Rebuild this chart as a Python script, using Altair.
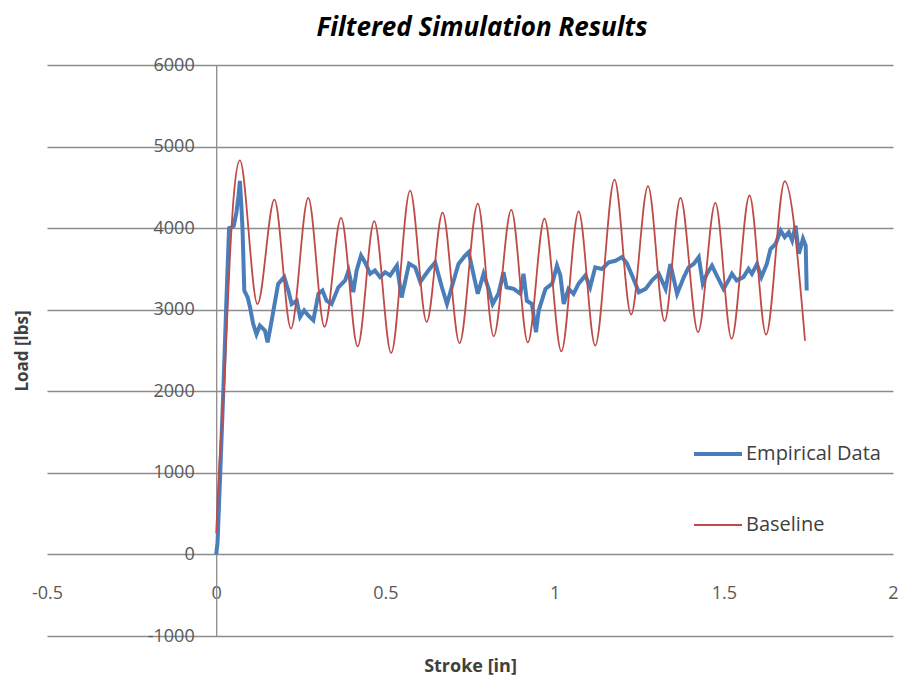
import altair as alt
import pandas as pd

# Empirical data (blue)
emp_x = [0, 0.004, 0.012, 0.021, 0.030, 0.038, 0.045, 0.052, 0.060, 0.066, 0.070, 0.074, 0.078, 0.083,
         0.093, 0.100, 0.109, 0.119, 0.129, 0.144, 0.152, 0.164, 0.183, 0.201, 0.213, 0.223, 0.238,
         0.248, 0.260, 0.272, 0.287, 0.302, 0.314, 0.326, 0.341, 0.361, 0.381, 0.391, 0.405, 0.415,
         0.428, 0.440, 0.455, 0.469, 0.484, 0.499, 0.514, 0.534, 0.548, 0.570, 0.588, 0.603, 0.627,
         0.647, 0.667, 0.682, 0.696, 0.716, 0.736, 0.746, 0.760, 0.773, 0.790, 0.805, 0.817, 0.834,
         0.849, 0.858, 0.879, 0.899, 0.908, 0.918, 0.933, 0.945, 0.953, 0.973, 0.993, 1.007, 1.017,
         1.027, 1.041, 1.056, 1.071, 1.091, 1.105, 1.120, 1.140, 1.160, 1.180, 1.199, 1.214, 1.229,
         1.249, 1.269, 1.288, 1.308, 1.328, 1.342, 1.362, 1.382, 1.396, 1.411, 1.426, 1.438, 1.450,
         1.465, 1.479, 1.499, 1.514, 1.524, 1.538, 1.558, 1.573, 1.583, 1.598, 1.611, 1.627, 1.638,
         1.653, 1.668, 1.680, 1.692, 1.702, 1.712, 1.722, 1.734, 1.742, 1.745]
emp_y = [0, 150, 1000, 2000, 3100, 4000, 4010, 4030, 4200, 4400, 4580, 4300, 3970, 3235,
         3150, 3030, 2830, 2700, 2805, 2745, 2600, 2870, 3315, 3400, 3235, 3070, 3110,
         2910, 2990, 2930, 2870, 3195, 3235, 3110, 3070, 3275, 3360, 3480, 3215, 3480,
         3665, 3580, 3440, 3480, 3400, 3460, 3420, 3540, 3150, 3565, 3520, 3340, 3480,
         3580, 3275, 3070, 3275, 3560, 3665, 3705, 3440, 3195, 3440, 3255, 3070, 3195,
         3460, 3275, 3255, 3195, 3440, 3110, 3070, 2725, 2990, 3255, 3320, 3540, 3420,
         3070, 3255, 3195, 3320, 3420, 3275, 3520, 3500, 3580, 3600, 3645, 3565, 3420,
         3215, 3255, 3360, 3440, 3255, 3560, 3195, 3400, 3520, 3560, 3645, 3320, 3440,
         3540, 3420, 3255, 3360, 3440, 3360, 3400, 3500, 3440, 3560, 3400, 3560, 3745,
         3805, 3970, 3890, 3950, 3850, 4030, 3685, 3870, 3785, 3235]

# Baseline simulation (red)
base_x = [0, 0.008, 0.024, 0.040, 0.052, 0.070, 0.122, 0.172, 0.221, 0.272, 0.320, 0.369, 0.418,
          0.467, 0.517, 0.573, 0.622, 0.669, 0.719, 0.773, 0.820, 0.872, 0.921, 0.970, 1.020,
          1.071, 1.120, 1.177, 1.226, 1.276, 1.325, 1.372, 1.424, 1.475, 1.523, 1.576, 1.625,
          1.680, 1.740]
base_y = [260, 1000, 2100, 3600, 4400, 4830, 3070, 4350, 2770, 4370, 2790, 4125, 2550,
          4085, 2470, 4460, 2850, 4190, 2590, 4300, 2675, 4225, 2600, 4115, 2490,
          4205, 2560, 4595, 2940, 4515, 2860, 4370, 2725, 4310, 2645, 4400, 2695,
          4575, 2620]

series_names = ["Empirical Data", "Baseline"]
series_colors = ["#4A7EBB", "#BE4B48"]
series_widths = [4, 1.8]
x_ticks = [-0.5, 0, 0.5, 1, 1.5, 2]
y_ticks = [-1000, 0, 1000, 2000, 3000, 4000, 5000, 6000]

emp = pd.DataFrame({"x": emp_x, "y": emp_y, "s": series_names[0]})
base = pd.DataFrame({"x": base_x, "y": base_y, "s": series_names[1]})

W, H = 846, 571
FONT = "Open Sans"

x_scale = alt.Scale(domain=[-0.5, 2], nice=False, zero=False)
y_scale = alt.Scale(domain=[-1000, 6000], nice=False, zero=False)

x_off = -H * 1000 / 7000  # axis at y=0
y_off = -W * 0.5 / 2.5    # axis at x=0

x_enc = alt.X("x:Q", scale=x_scale, axis=alt.Axis(
    values=x_ticks, offset=x_off, grid=False, domain=False, ticks=False,
    labelPadding=30, labelFlush=False, labelOverlap=False,
    labelExpr="toString(datum.value)",
    title="Stroke [in]", titleY=112, titleBaseline="middle",
    titleFont=FONT, titleFontSize=18, titleFontWeight="bold", titleColor="#404040"))
y_enc = alt.Y("y:Q", scale=y_scale, axis=alt.Axis(
    values=y_ticks, offset=y_off, grid=True, gridColor="#8C8C8C", gridWidth=1.3,
    domain=True, domainColor="#8C8C8C", domainWidth=1.3, ticks=False,
    labelPadding=22, labelOverlap=False, labelExpr="toString(datum.value)",
    title="Load [lbs]", titleX=y_off - 25, titleY=H / 2, titleBaseline="middle",
    titleFont=FONT, titleFontSize=17, titleFontWeight="bold", titleColor="#404040"))

legend_def = alt.Legend(orient="none", legendX=645, legendY=363, title=None,
                        symbolType="stroke", symbolSize=2304, padding=0,
                        labelFont=FONT, labelFontSize=20, labelColor="#404040",
                        labelOffset=2, rowPadding=36)
color_enc = alt.Color("s:N", scale=alt.Scale(domain=series_names, range=series_colors),
                      legend=legend_def)
width_enc = alt.StrokeWidth("s:N", scale=alt.Scale(domain=series_names, range=series_widths),
                            legend=legend_def)

emp_line = alt.Chart(emp).mark_line(interpolate="linear").encode(
    x=x_enc, y=y_enc, color=color_enc, strokeWidth=width_enc)
base_line = alt.Chart(base).mark_line(interpolate="monotone").encode(
    x=x_enc, y=y_enc, color=color_enc, strokeWidth=width_enc)

chart = alt.layer(emp_line, base_line).properties(
    width=W, height=H,
    autosize=alt.AutoSizeParams(type="none"),
    padding={"left": 39, "top": 57, "right": 12, "bottom": 40},
    title=alt.TitleParams("Filtered Simulation Results", font=FONT, fontSize=26,
                          fontWeight="bold", fontStyle="italic", color="#000000",
                          anchor="middle", frame="group", offset=15, dx=12),
).configure_view(stroke=None).configure_axis(
    labelFont=FONT, labelFontSize=18, labelColor="#595959"
)

chart.save("out.html", embed_options={"renderer": "svg", "actions": False})
